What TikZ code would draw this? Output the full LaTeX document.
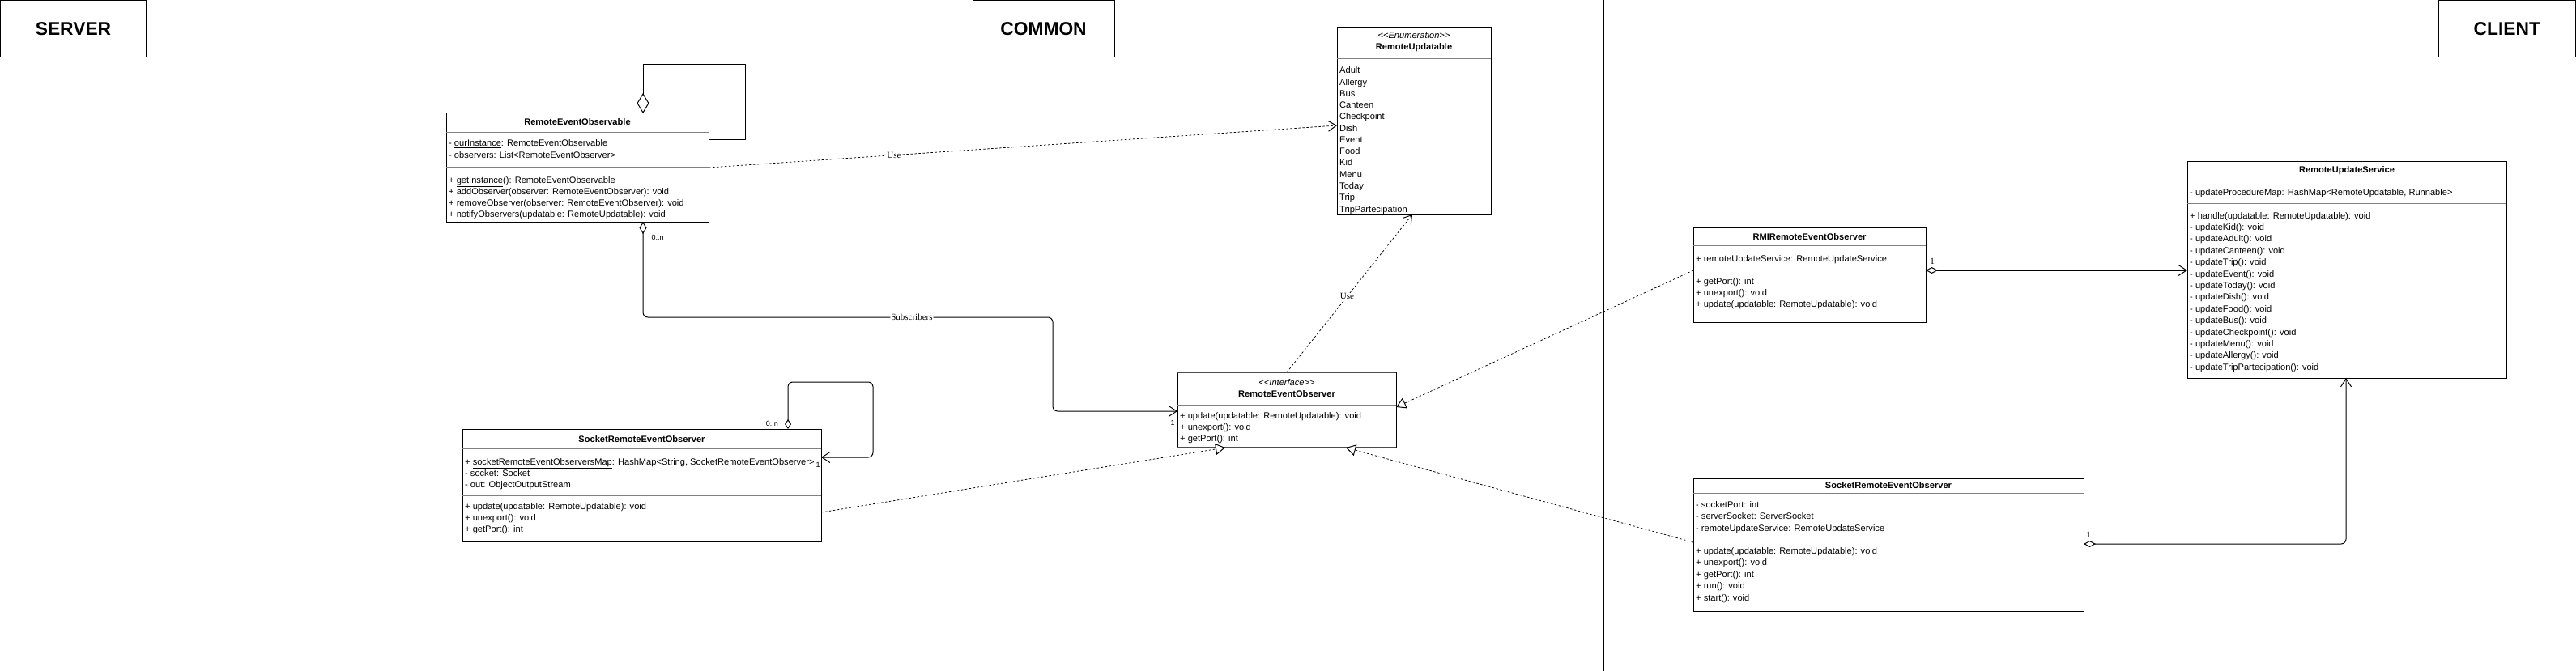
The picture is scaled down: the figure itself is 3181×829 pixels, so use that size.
\documentclass[tikz,border=0pt]{standalone}
\usepackage{fontspec}
\newfontfamily\uml{Liberation Sans}
\newfontfamily\umlserif{Liberation Serif}
\usetikzlibrary{arrows.meta}
\tikzset{
  cls/.style={draw, line width=1pt, fill=white, anchor=north west, inner sep=0pt, outer sep=0pt},
  sec/.style={draw, line width=1pt, anchor=north west, inner sep=0pt, outer sep=0pt, font=\uml\bfseries\fontsize{22.8}{27}\selectfont},
  txt/.style={anchor=base west, inner sep=0pt, font=\uml\fontsize{11.1}{14}\selectfont},
  ttl/.style={anchor=base, inner sep=0pt, font=\uml\bfseries\fontsize{11.1}{14}\selectfont},
  ster/.style={anchor=base, inner sep=0pt, font=\uml\itshape\fontsize{11.1}{14}\selectfont},
  sepline/.style={draw=gray, line width=1pt},
  lbl/.style={font=\umlserif\fontsize{11}{13}\selectfont, fill=white, inner sep=1pt},
  mult/.style={font=\uml\fontsize{9}{11}\selectfont, inner sep=0pt},
  mults/.style={font=\umlserif\fontsize{11}{13}\selectfont, inner sep=0pt},
  conn/.style={line width=1pt},
  dep/.style={line width=0.75pt, dash pattern=on 2.5pt off 2.5pt, -{Straight Barb[length=10pt,width=13pt,line width=1pt]}},
  real/.style={line width=0.75pt, dash pattern=on 2.5pt off 2.5pt, -{Triangle[open,length=12pt,width=14pt,fill=white,line width=1pt]}},
  agg/.style={line width=1pt, {Diamond[open,length=15pt,width=8pt,fill=white]}-{Straight Barb[length=10pt,width=13pt]}},
}
\newcommand\umllines[4]{\foreach \t [count=\i from 0] in {#4} {\node[txt] at (#1, #2+\i*#3) {\t};}}
\begin{document}
\begin{tikzpicture}[x=1pt,y=-1pt]
\fill[white] (0,0) rectangle (3181,829);
\useasboundingbox (0,0) rectangle (3181,829);

% section headers and dividers
\node[sec, minimum width=180, minimum height=70] (srv) at (0.5,0.5) {SERVER};
\node[sec, minimum width=175, minimum height=70] (com) at (1201,0.5) {COMMON};
\node[sec, minimum width=169.5, minimum height=70] (cli) at (3011,0.5) {CLIENT};
\draw[line width=1pt] (com.south west) -- (1201,829);
\draw[line width=1pt] (1980,0) -- (1980,829);

% RemoteEventObservable
\node[cls, minimum width=324, minimum height=134] (reo) at (551,140) {};
\node[ttl] at (713,155) {RemoteEventObservable};
\draw[sepline] (551,164) -- (875,164);
\draw[sepline] (551,207) -- (875,207);
\umllines{554}{181}{14.3}{{- \underline{ourInstance}: RemoteEventObservable},{- observers: List<RemoteEventObserver>}}
\umllines{554}{226}{14.1}{{+ \underline{getInstance}(): RemoteEventObservable},{+ addObserver(observer: RemoteEventObserver): void},{+ removeObserver(observer: RemoteEventObserver): void},{+ notifyObservers(updatable: RemoteUpdatable): void}}

% RemoteUpdatable
\node[cls, minimum width=190, minimum height=231] (rup) at (1651,34) {};
\node[ster] at (1746,48) {<<Enumeration>>};
\node[ttl] at (1746,62) {RemoteUpdatable};
\draw[sepline] (1651,73) -- (1841,73);
\umllines{1654}{91}{14.25}{Adult,Allergy,Bus,Canteen,Checkpoint,Dish,Event,Food,Kid,Menu,Today,Trip,TripPartecipation}

% RemoteEventObserver (interface)
\node[cls, minimum width=270, minimum height=93] (ifc) at (1454,460) {};
\draw[line width=2pt, gray!60!black] (1454,460) -- (1724,460);
\draw[line width=2pt, gray!60!black] (1454,553) -- (1724,553);
\node[ster] at (1589,476) {<<Interface>>};
\node[ttl] at (1589,490) {RemoteEventObserver};
\draw[sepline] (1454,500) -- (1724,500);
\umllines{1457}{517}{14}{{+ update(updatable: RemoteUpdatable): void},{+ unexport(): void},{+ getPort(): int}}

% SocketRemoteEventObserver (server)
\node[cls, minimum width=443, minimum height=139] (sso) at (571,530) {};
\node[ttl] at (792.5,546) {SocketRemoteEventObserver};
\draw[sepline] (571,554) -- (1014,554);
\draw[sepline] (571,612) -- (1014,612);
\umllines{574}{574}{14}{{+ \underline{socketRemoteEventObserversMap}: HashMap<String, SocketRemoteEventObserver>},{- socket: Socket},{- out: ObjectOutputStream}}
\umllines{574}{629}{14.3}{{+ update(updatable: RemoteUpdatable): void},{+ unexport(): void},{+ getPort(): int}}

% RMIRemoteEventObserver
\node[cls, minimum width=287, minimum height=117] (rmi) at (2091,281) {};
\node[ttl] at (2234.5,296) {RMIRemoteEventObserver};
\draw[sepline] (2091,303) -- (2378,303);
\draw[sepline] (2091,333) -- (2378,333);
\umllines{2094}{323}{14}{{+ remoteUpdateService: RemoteUpdateService}}
\umllines{2094}{351}{14}{{+ getPort(): int},{+ unexport(): void},{+ update(updatable: RemoteUpdatable): void}}

% RemoteUpdateService
\node[cls, minimum width=394, minimum height=267] (rus) at (2701,200) {};
\node[ttl] at (2898,214) {RemoteUpdateService};
\draw[sepline] (2701,223) -- (3095,223);
\draw[sepline] (2701,252) -- (3095,252);
\umllines{2704}{242}{14}{{- updateProcedureMap: HashMap<RemoteUpdatable, Runnable>}}
\umllines{2704}{270}{14.4}{{+ handle(updatable: RemoteUpdatable): void},{- updateKid(): void},{- updateAdult(): void},{- updateCanteen(): void},{- updateTrip(): void},{- updateEvent(): void},{- updateToday(): void},{- updateDish(): void},{- updateFood(): void},{- updateBus(): void},{- updateCheckpoint(): void},{- updateMenu(): void},{- updateAllergy(): void},{- updateTripPartecipation(): void}}

% SocketRemoteEventObserver (client)
\node[cls, minimum width=482, minimum height=164] (cso) at (2091,591) {};
\node[ttl] at (2332,603) {SocketRemoteEventObserver};
\draw[sepline] (2091,609) -- (2573,609);
\draw[sepline] (2091,668) -- (2573,668);
\umllines{2094}{627}{14.5}{{- socketPort: int},{- serverSocket: ServerSocket},{- remoteUpdateService: RemoteUpdateService}}
\umllines{2094}{684}{14.5}{{+ update(updatable: RemoteUpdatable): void},{+ unexport(): void},{+ getPort(): int},{+ run(): void},{+ start(): void}}

% connectors
\draw[conn, {Diamond[open,length=25pt,width=15pt,fill=white]}-] (reo.north -| 794,0) -- (794,80) -- (920,80) -- (920,173) -- (reo.east |- 0,173);
\draw[conn, rounded corners=6pt, {Diamond[open,length=12pt,width=8pt,fill=white]}-{Straight Barb[length=10pt,width=13pt]}] (sso.north -| 973,0) -- (973,472) -- (1078,472) -- (1078,565) -- (sso.east |- 0,565);
\node[mult, anchor=east] (m1) at (961,523) {0..n};
\node[mult] (m2) at (1010,574) {1};

\draw[dep] (reo.east |- 0,207) -- node[lbl, pos=0.295] {Use} (rup.west |- 0,155);
\draw[dep] (ifc.north) -- node[lbl, pos=0.48] {Use} (rup.south -| 1744,0);

\draw[conn, rounded corners=6pt, {Diamond[open,length=15pt,width=9pt,fill=white]}-{Straight Barb[length=10pt,width=13pt]}] (reo.south -| 794,0) -- (794,392) -- node[lbl, pos=0.656] {Subscribers} (1300,392) -- (1300,508) -- (ifc.west |- 0,508);
\node[mult] (m3) at (812,293) {0..n};
\node[mult] (m4) at (1448,522) {1};

\draw[real] (sso.east |- 0,633) -- (ifc.south -| 1513,0);
\draw[real] (rmi.west |- 0,334) -- (ifc.east |- 0,503);
\draw[real] (cso.west |- 0,670) -- (ifc.south -| 1662,0);

\draw[agg] (rmi.east |- 0,334) -- (rus.west |- 0,334);
\node[mults] (m5) at (2386,323) {1};
\draw[agg, rounded corners=6pt] (cso.east |- 0,672) -- (2897,672) -- (rus.south -| 2897,0);
\node[mults] (m6) at (2579,661) {1};
\end{tikzpicture}
\end{document}
